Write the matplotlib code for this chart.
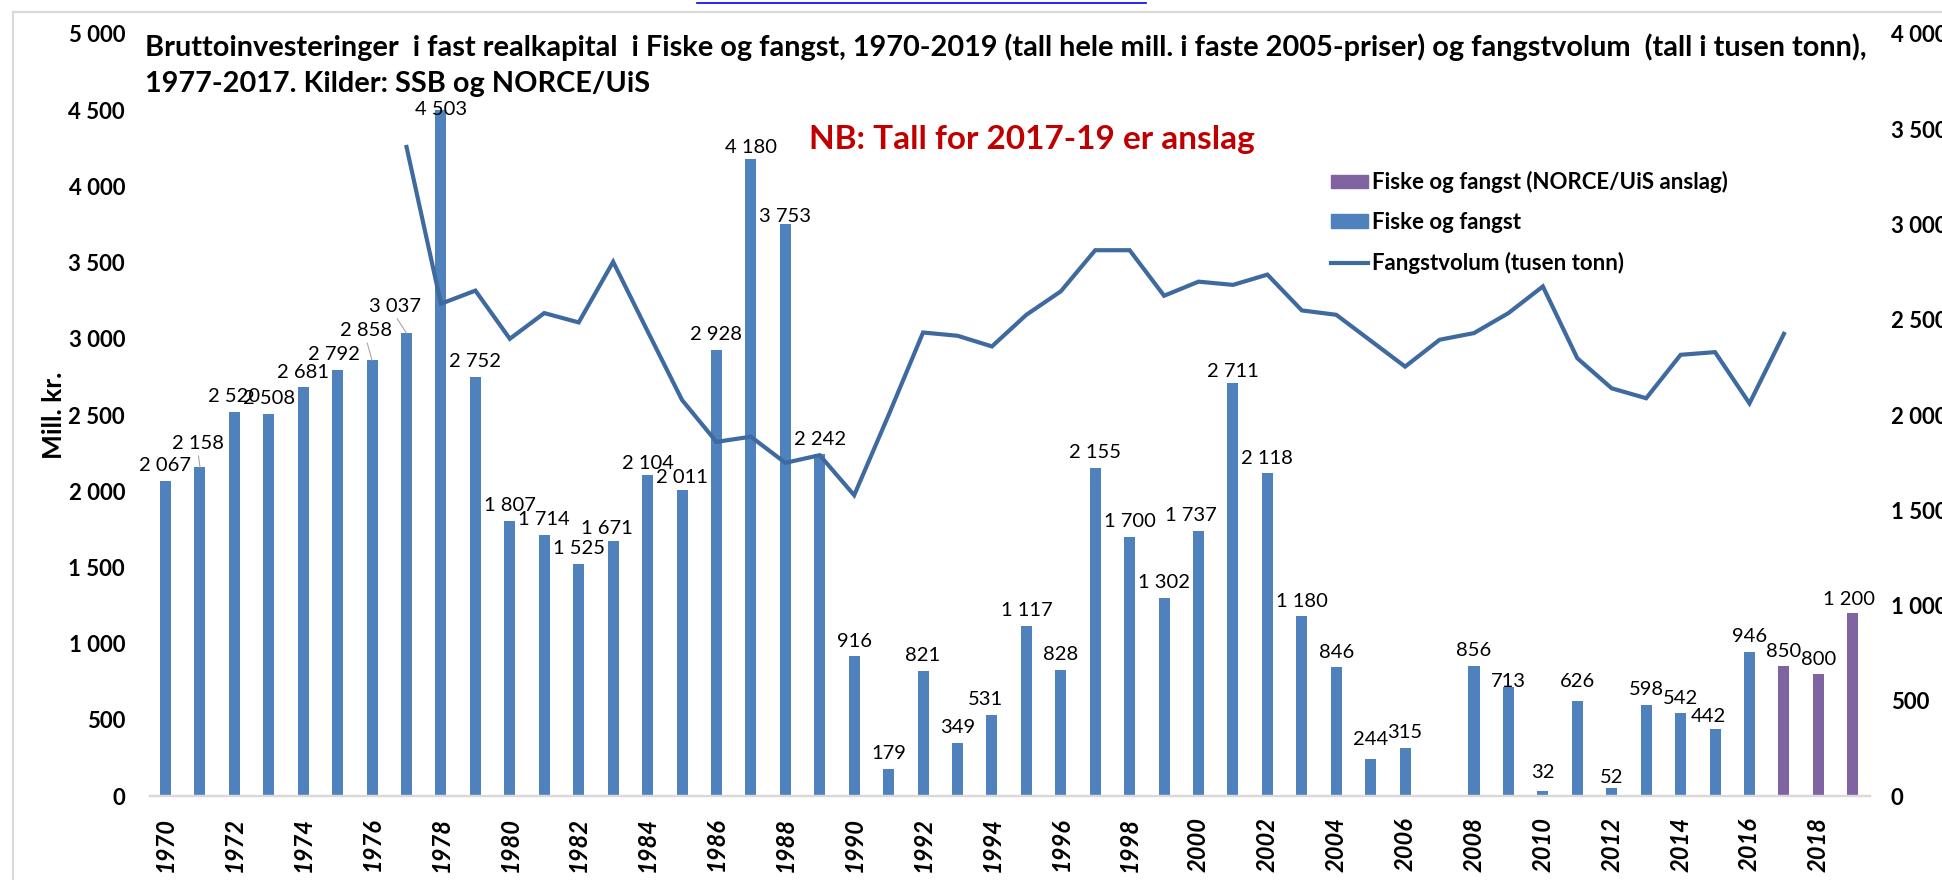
import matplotlib
matplotlib.use('Agg')
import matplotlib.pyplot as plt
from matplotlib.patches import Patch
from matplotlib.lines import Line2D
from matplotlib.ticker import FuncFormatter, MultipleLocator

plt.rcParams['font.family'] = ['Lato', 'DejaVu Sans']

# Bruttoinvesteringer (mill. kr, faste 2005-priser)
years = list(range(1970, 2017))
invest = [2067, 2158, 2520, 2508, 2681, 2792, 2858, 3037, 4503, 2752,
          1807, 1714, 1525, 1671, 2104, 2011, 2928, 4180, 3753, 2242,
          916, 179, 821, 349, 531, 1117, 828, 2155, 1700, 1302,
          1737, 2711, 2118, 1180, 846, 244, 315, None, 856, 713,
          32, 626, 52, 598, 542, 442, 946]
est_years = [2017, 2018, 2019]
est_invest = [850, 800, 1200]

# Fangstvolum (tusen tonn), hoyre akse
catch_years = list(range(1977, 2018))
catch = [3407, 2584, 2653, 2400, 2535, 2486, 2804, 2440, 2079, 1859,
         1886, 1749, 1789, 1579, 2000, 2433, 2416, 2360, 2526, 2649,
         2865, 2865, 2626, 2700, 2683, 2737, 2549, 2526, 2390, 2254,
         2395, 2430, 2535, 2675, 2298, 2140, 2088, 2316, 2330, 2061,
         2426]

title1 = ('Bruttoinvesteringer  i fast realkapital  i Fiske og fangst, 1970-2019 '
          '(tall hele mill. i faste 2005-priser) og fangstvolum  (tall i tusen tonn),')
title2 = '1977-2017. Kilder: SSB og NORCE/UiS'
note = 'NB: Tall for 2017-19 er anslag'
lab_est = 'Fiske og fangst (NORCE/UiS anslag)'
lab_bar = 'Fiske og fangst'
lab_line = 'Fangstvolum (tusen tonn)'

BLUE = '#4F81BD'
PURPLE = '#8064A2'
LINE = '#3F6A9F'

W, H = 1942, 880
fig = plt.figure(figsize=(W / 100, H / 100), dpi=100)
ax = fig.add_axes([150 / W, 1 - 796 / H, 1720 / W, 762 / H])
ax2 = ax.twinx()


def fmt(v, pos=None):
    return f'{int(v):,}'.replace(',', ' ')


bx = [y for y, v in zip(years, invest) if v is not None]
bv = [v for v in invest if v is not None]
ax.bar(bx, bv, width=0.32, color=BLUE, zorder=2)
ax.bar(est_years, est_invest, width=0.32, color=PURPLE, zorder=2)

ax2.plot(catch_years, catch, color=LINE, lw=3.0, solid_joinstyle='miter')

# datalabels: standard 15 px over the bar, some moved by hand (px)
moved = {1971: (-2, 24), 1975: (-4, 16), 1976: (-6, 30), 1977: (-12, 27),
         1978: (0, 0), 1983: (-6, 13), 1988: (0, 8), 1994: (-6, 16),
         2000: (-8, 16), 2009: (0, 6), 2015: (-7, 12), 2019: (-4, 14),
         2005: (0, 19), 2010: (0, 19), 2011: (0, 19), 2012: (0, 11),
         2001: (0, 11), 1987: (0, 11), 1984: (0, 12), 1985: (0, 12)}
leaders = [1971, 1976, 1977]
for y, v in list(zip(bx, bv)) + list(zip(est_years, est_invest)):
    dx, dy = moved.get(y, (0, 15))
    kw = {}
    if y in leaders:
        kw['arrowprops'] = dict(arrowstyle='-', color='#A6A6A6', lw=0.8,
                                relpos=(0.5, 0), shrinkA=1, shrinkB=0)
    ax.annotate(fmt(v), (y, v), xytext=(dx * 0.72, dy * 0.72),
                textcoords='offset points', ha='center', va='center',
                fontsize=14.5, color='black', zorder=3, **kw)

ax.set_xlim(1969.55, 2019.5)
ax.set_ylim(0, 5000)
ax2.set_ylim(0, 4000)
ax.yaxis.set_major_locator(MultipleLocator(500))
ax2.yaxis.set_major_locator(MultipleLocator(500))
ax.yaxis.set_major_formatter(FuncFormatter(fmt))
ax2.yaxis.set_major_formatter(FuncFormatter(fmt))
ax.set_xticks(range(1970, 2019, 2))
ax.set_xticklabels([str(t) for t in range(1970, 2019, 2)], rotation=90,
                   fontsize=17, fontweight='bold', fontstyle='italic')
ax.tick_params(axis='x', length=0, pad=15)
ax.tick_params(axis='y', length=0, pad=18, labelsize=16)
ax2.tick_params(axis='y', length=0, pad=15, labelsize=16)
for t in ax.get_yticklabels() + ax2.get_yticklabels():
    t.set_fontweight('bold')

for a in (ax, ax2):
    for s in ('top', 'left', 'right'):
        a.spines[s].set_visible(False)
    a.spines['bottom'].set_color('#D9D9D9')
    a.spines['bottom'].set_linewidth(1.6)

ax.set_ylabel('Mill. kr.', fontsize=19, fontweight='bold')
ax.yaxis.set_label_coords(-0.049, 0.5)

fig.text(145 / W, 1 - 47 / H, title1, fontsize=20.8, fontweight='bold',
         ha='left', va='center')
fig.text(145 / W, 1 - 84 / H, title2, fontsize=20.8, fontweight='bold',
         ha='left', va='center')
fig.text(1032 / W, 1 - 140 / H, note, fontsize=24, fontweight='bold',
         color='#C00000', ha='center', va='center')

handles = [Patch(color=PURPLE), Patch(color=BLUE),
           Line2D([], [], color=LINE, lw=3.0)]
fig.legend(handles, [lab_est, lab_bar, lab_line], loc='upper left',
           bbox_to_anchor=(1331 / W, 1 - 171 / H), frameon=False,
           prop=dict(size=16, weight='bold'), handlelength=1.65,
           handleheight=0.55, handletextpad=0.2, labelspacing=0.85,
           borderpad=0, borderaxespad=0)

# rest of the page around the chart
fig.add_artist(Line2D([13 / W, 1], [1 - 12 / H, 1 - 12 / H], color='#D9D9D9', lw=1.5))
fig.add_artist(Line2D([13 / W, 13 / W], [0, 1 - 12 / H], color='#D9D9D9', lw=1.5))
fig.add_artist(Line2D([697 / W, 1146 / W], [1 - 3 / H, 1 - 3 / H], color='#0000FF', lw=1.2))

fig.savefig('out.png', dpi=100)
